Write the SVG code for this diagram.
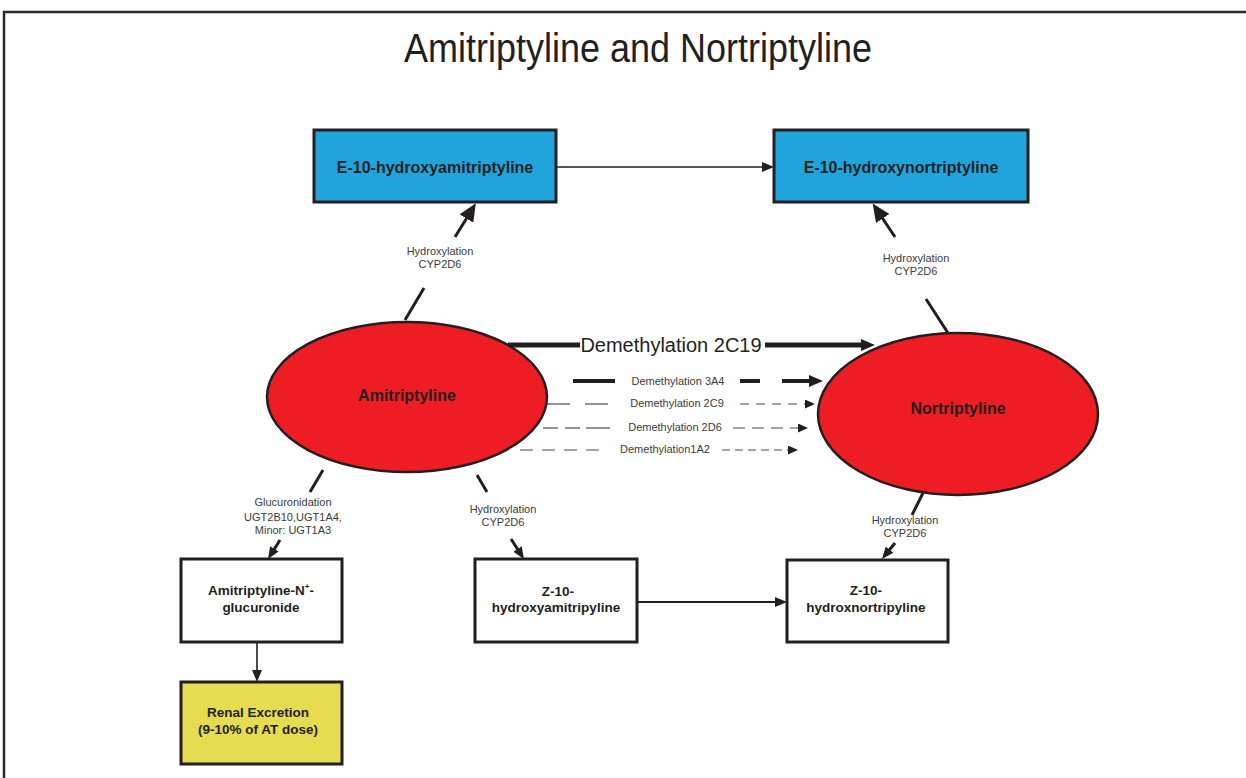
<svg xmlns="http://www.w3.org/2000/svg" width="1246" height="778" viewBox="0 0 1246 778">
<style>
.frame{fill:none;stroke:#2b2b2b;stroke-width:2.5}
.title{font-family:"Liberation Sans",Arial,sans-serif;font-size:40px;fill:#231f20}
.box{stroke:#231f20;stroke-width:3}
.blue{fill:#21a4dc}
.white{fill:#ffffff}
.yellow{fill:#e5dc4f}
.oval{fill:#ee1d23;stroke:#231f20;stroke-width:2.5}
.lbl{font-family:"Liberation Sans",Arial,sans-serif;font-weight:bold;fill:#231f20;text-anchor:middle}
.small{font-family:"Liberation Sans",Arial,sans-serif;font-size:11px;fill:#3c3c3c;text-anchor:middle}
.big{font-family:"Liberation Sans",Arial,sans-serif;font-size:20px;fill:#231f20;text-anchor:middle}
.conn{fill:none;stroke:#231f20}
.thin{stroke-width:1.6}
.mid{stroke-width:3}
.thick{stroke-width:5}
.dash3{stroke-width:4}
.light{stroke:#4a4a4a;stroke-width:1.2}
</style>
<defs>
<marker id="ahBig" markerUnits="userSpaceOnUse" markerWidth="18" markerHeight="16" refX="3" refY="8" orient="auto"><path d="M0,0 L18,8 L0,16 z" fill="#231f20"/></marker>
<marker id="ahMed" markerUnits="userSpaceOnUse" markerWidth="14" markerHeight="12" refX="3" refY="6" orient="auto"><path d="M0,0 L14,6 L0,12 z" fill="#231f20"/></marker>
<marker id="ahSm" markerUnits="userSpaceOnUse" markerWidth="12" markerHeight="10" refX="3" refY="5" orient="auto"><path d="M0,0 L12,5 L0,10 z" fill="#231f20"/></marker>
<marker id="ahTiny" markerUnits="userSpaceOnUse" markerWidth="10" markerHeight="9" refX="3" refY="4.5" orient="auto"><path d="M0,0 L10,4.5 L0,9 z" fill="#231f20"/></marker>
</defs>
<rect x="0" y="0" width="1246" height="778" fill="#ffffff"/>
<path class="frame" d="M4,778 V12 H1246"/>
<text class="title" x="404" y="62" textLength="468" lengthAdjust="spacingAndGlyphs">Amitriptyline and Nortriptyline</text>

<g id="connectors">
  <!-- E-10 amitriptyline -> E-10 nortriptyline -->
  <line class="conn thin" x1="556" y1="167" x2="765" y2="167" marker-end="url(#ahSm)"/>
  <!-- Hydroxylation top-left -->
  <line class="conn mid" x1="405" y1="320" x2="424" y2="288"/>
  <line class="conn mid" x1="455" y1="237" x2="468" y2="216" marker-end="url(#ahBig)"/>
  <text class="small" x="440" y="255">Hydroxylation</text>
  <text class="small" x="440" y="268">CYP2D6</text>
  <!-- Hydroxylation top-right -->
  <line class="conn mid" x1="948" y1="333" x2="926" y2="299"/>
  <line class="conn mid" x1="895" y1="237" x2="881" y2="216" marker-end="url(#ahBig)"/>
  <text class="small" x="916" y="262">Hydroxylation</text>
  <text class="small" x="916" y="275">CYP2D6</text>
  <!-- Demethylation 2C19 -->
  <line class="conn thick" x1="508" y1="345" x2="580" y2="345"/>
  <line class="conn thick" x1="765" y1="345" x2="864" y2="345" marker-end="url(#ahMed)"/>
  <text class="big" x="671" y="352">Demethylation 2C19</text>
  <!-- Demethylation 3A4 -->
  <line class="conn dash3" x1="573" y1="381" x2="615" y2="381"/>
  <line class="conn dash3" x1="740" y1="381" x2="760" y2="381"/>
  <line class="conn dash3" x1="782" y1="381" x2="812" y2="381" marker-end="url(#ahMed)"/>
  <text class="small" x="678" y="385">Demethylation 3A4</text>
  <!-- Demethylation 2C9 -->
  <line class="conn light" x1="543" y1="404" x2="570" y2="404"/>
  <line class="conn light" x1="585" y1="404" x2="608" y2="404"/>
  <line class="conn light" x1="740" y1="404" x2="808" y2="404" stroke-dasharray="9,7" marker-end="url(#ahTiny)"/>
  <text class="small" x="677" y="407">Demethylation 2C9</text>
  <!-- Demethylation 2D6 -->
  <line class="conn light" x1="543" y1="428" x2="558" y2="428"/>
  <line class="conn light" x1="565" y1="428" x2="580" y2="428"/>
  <line class="conn light" x1="586" y1="428" x2="610" y2="428"/>
  <line class="conn light" x1="733" y1="428" x2="801" y2="428" stroke-dasharray="12,7" marker-end="url(#ahTiny)"/>
  <text class="small" x="675" y="431">Demethylation 2D6</text>
  <!-- Demethylation 1A2 -->
  <line class="conn light" x1="520" y1="450" x2="600" y2="450" stroke-dasharray="13,9"/>
  <line class="conn light" x1="722" y1="450" x2="791" y2="450" stroke-dasharray="8,5" marker-end="url(#ahTiny)"/>
  <text class="small" x="665" y="453">Demethylation1A2</text>
  <!-- Glucuronidation -->
  <line class="conn mid" x1="323" y1="470" x2="310" y2="492"/>
  <line class="conn mid" x1="280" y1="540" x2="272.8" y2="551.4" marker-end="url(#ahSm)"/>
  <text class="small" x="293" y="506">Glucuronidation</text>
  <text class="small" x="293" y="521">UGT2B10,UGT1A4,</text>
  <text class="small" x="293" y="534">Minor: UGT1A3</text>
  <!-- Hydroxylation to Z-10-hydroxyamitripyline -->
  <line class="conn mid" x1="477" y1="475" x2="487" y2="492"/>
  <line class="conn mid" x1="511" y1="539" x2="519.1" y2="551.5" marker-end="url(#ahSm)"/>
  <text class="small" x="503" y="513">Hydroxylation</text>
  <text class="small" x="503" y="526">CYP2D6</text>
  <!-- Hydroxylation to Z-10-hydroxnortripyline -->
  <line class="conn mid" x1="923" y1="493" x2="912" y2="515"/>
  <line class="conn mid" x1="895" y1="543" x2="887.7" y2="552" marker-end="url(#ahSm)"/>
  <text class="small" x="905" y="524">Hydroxylation</text>
  <text class="small" x="905" y="537">CYP2D6</text>
  <!-- Z-10 -> Z-10 -->
  <line class="conn" stroke-width="2.2" x1="637" y1="602" x2="778" y2="602" marker-end="url(#ahSm)"/>
  <!-- glucuronide -> renal -->
  <line class="conn thin" x1="257" y1="642" x2="257" y2="673" marker-end="url(#ahSm)"/>
</g>

<g id="node-e10-ami">
  <rect class="box blue" x="314" y="130" width="242" height="72"/>
  <text class="lbl" x="435" y="173" font-size="16">E-10-hydroxyamitriptyline</text>
</g>
<g id="node-e10-nor">
  <rect class="box blue" x="774" y="130" width="254" height="72"/>
  <text class="lbl" x="901" y="173" font-size="16">E-10-hydroxynortriptyline</text>
</g>
<g id="node-amitriptyline">
  <ellipse class="oval" cx="407" cy="397" rx="140" ry="75"/>
  <text class="lbl" x="407" y="401" font-size="16">Amitriptyline</text>
</g>
<g id="node-nortriptyline">
  <ellipse class="oval" cx="958" cy="414" rx="140" ry="81"/>
  <text class="lbl" x="958" y="414" font-size="16">Nortriptyline</text>
</g>
<g id="node-glucuronide">
  <rect class="box white" x="181" y="559" width="161" height="83"/>
  <text class="lbl" x="261" y="595" font-size="13.5">Amitriptyline-N<tspan font-size="8" dy="-6">+</tspan><tspan dy="6">-</tspan></text>
  <text class="lbl" x="261" y="612" font-size="13.5">glucuronide</text>
</g>
<g id="node-z10-ami">
  <rect class="box white" x="475" y="559" width="162" height="83"/>
  <text class="lbl" x="558" y="596" font-size="13.5">Z-10-</text>
  <text class="lbl" x="556" y="612" font-size="13.5">hydroxyamitripyline</text>
</g>
<g id="node-z10-nor">
  <rect class="box white" x="787" y="560" width="161" height="82"/>
  <text class="lbl" x="866" y="595" font-size="13.5">Z-10-</text>
  <text class="lbl" x="866" y="612" font-size="13.5">hydroxnortripyline</text>
</g>
<g id="node-renal">
  <rect class="box yellow" x="181" y="682" width="161" height="82"/>
  <text class="lbl" x="258" y="717" font-size="13.5">Renal Excretion</text>
  <text class="lbl" x="258" y="734" font-size="13.5">(9-10% of AT dose)</text>
</g>
</svg>
